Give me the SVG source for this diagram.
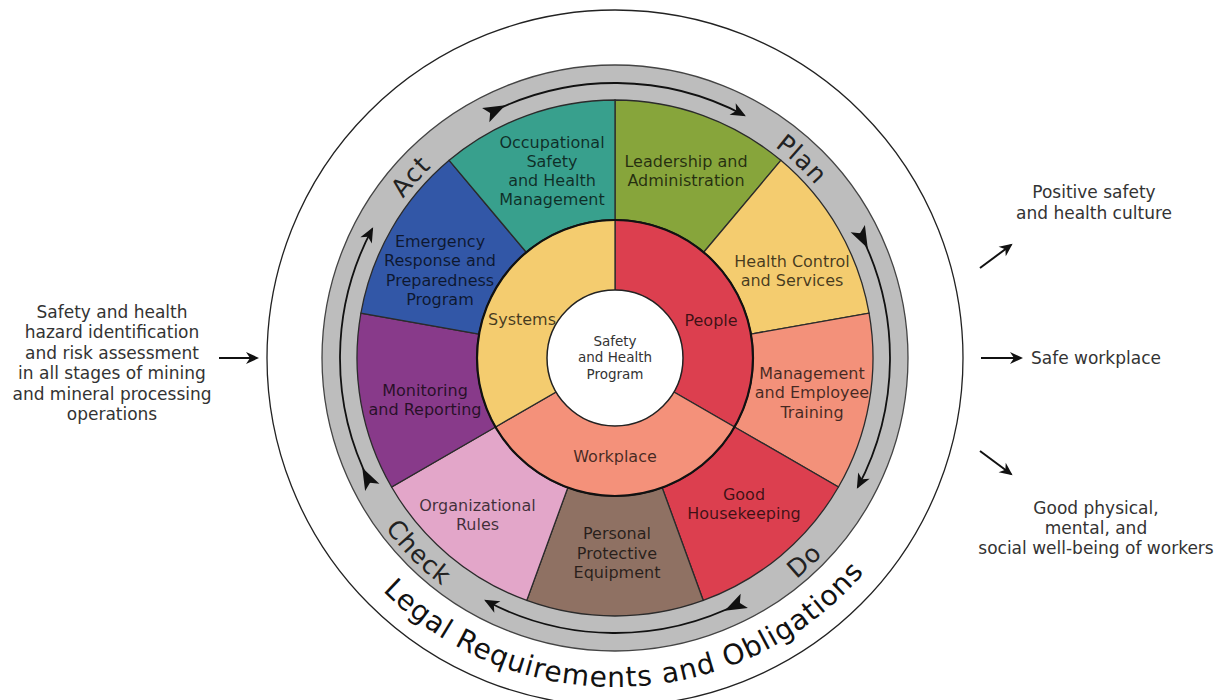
<svg xmlns="http://www.w3.org/2000/svg" width="1229" height="700" viewBox="0 0 1229 700">
<style>
.seg{stroke:#2b2b2b;stroke-width:1.3}
.lbl{font-family:"DejaVu Sans",sans-serif;font-size:16px;fill:#000;fill-opacity:0.72;text-anchor:middle}
.side{font-family:"DejaVu Sans",sans-serif;font-size:17px;fill:#333;text-anchor:middle}
.ctr{font-family:"DejaVu Sans",sans-serif;font-size:13.5px;fill:#333;text-anchor:middle}
.ring{font-family:"DejaVu Sans",sans-serif;font-size:25px;fill:#222;text-anchor:middle;letter-spacing:1px}
.legal{font-family:"DejaVu Sans",sans-serif;font-size:28px;fill:#111;text-anchor:middle;letter-spacing:1px}
.cyc{fill:none;stroke:#111;stroke-width:1.8;marker-start:url(#tail);marker-end:url(#head)}
.arw{fill:none;stroke:#111;stroke-width:2;marker-end:url(#shead)}
</style>
<defs>
<marker id="head" markerUnits="userSpaceOnUse" markerWidth="30" markerHeight="30" refX="0" refY="0" orient="auto" overflow="visible"><path d="M2,0 L-13,-6.5 L-9,0 L-13,6.5 Z" fill="#111"/></marker>
<marker id="tail" markerUnits="userSpaceOnUse" markerWidth="30" markerHeight="30" refX="0" refY="0" orient="auto" overflow="visible"><path d="M0,0 L-5,-8 L17,0 L-5,8 Z" fill="#111"/></marker>
<marker id="shead" markerUnits="userSpaceOnUse" markerWidth="30" markerHeight="30" refX="0" refY="0" orient="auto" overflow="visible"><path d="M2,0 L-11,-6 L-7,0 L-11,6 Z" fill="#111"/></marker>
<path id="cw265" d="M350,358 A265,265 0 0 1 880,358 A265,265 0 0 1 350,358"/>
<path id="ccw286" d="M329,358 A286,286 0 0 0 901,358 A286,286 0 0 0 329,358"/>
<path id="ccw329" d="M286,358 A329,329 0 0 0 944,358 A329,329 0 0 0 286,358"/>
</defs>
<rect width="1229" height="700" fill="#fff"/>

<g id="legal-frame">
<circle cx="615" cy="358" r="348" fill="none" stroke="#222" stroke-width="1.3"/>
<text class="legal"><textPath href="#ccw329" startOffset="529.4">Legal Requirements and Obligations</textPath></text>
</g>

<g id="pdca-ring">
<circle cx="615" cy="358" r="293" fill="#bdbdbd" stroke="#444" stroke-width="1.3"/>
<text class="ring"><textPath href="#cw265" startOffset="192.4">Act</textPath></text>
<text class="ring"><textPath href="#cw265" startOffset="616.1">Plan</textPath></text>
<text class="ring"><textPath href="#ccw286" startOffset="663.9">Do</textPath></text>
<text class="ring"><textPath href="#ccw286" startOffset="223.1">Check</textPath></text>
</g>

<g id="leadership">
<path class="seg" fill="#87a53b" d="M615,220 L615,100 A258,258 0 0 1 780.84,160.37 L703.71,252.29 A138,138 0 0 0 615,220 Z"/>
<text class="lbl" x="686" y="167">Leadership and</text>
<text class="lbl" x="686" y="186">Administration</text>
</g>
<g id="health-control">
<path class="seg" fill="#f4cc6f" d="M703.71,252.29 L780.84,160.37 A258,258 0 0 1 869.08,313.21 L750.9,334.04 A138,138 0 0 0 703.71,252.29 Z"/>
<text class="lbl" x="792" y="267">Health Control</text>
<text class="lbl" x="792" y="286">and Services</text>
</g>
<g id="training">
<path class="seg" fill="#f3917a" d="M750.9,334.04 L869.08,313.21 A258,258 0 0 1 838.43,487 L734.51,427 A138,138 0 0 0 750.9,334.04 Z"/>
<text class="lbl" x="812" y="378.5">Management</text>
<text class="lbl" x="812" y="398">and Employee</text>
<text class="lbl" x="812" y="418">Training</text>
</g>
<g id="housekeeping">
<path class="seg" fill="#dc3f4f" d="M734.51,427 L838.43,487 A258,258 0 0 1 703.24,600.44 L662.2,487.68 A138,138 0 0 0 734.51,427 Z"/>
<text class="lbl" x="744" y="499.5">Good</text>
<text class="lbl" x="744" y="518.5">Housekeeping</text>
</g>
<g id="ppe">
<path class="seg" fill="#8f7163" d="M662.2,487.68 L703.24,600.44 A258,258 0 0 1 526.76,600.44 L567.8,487.68 A138,138 0 0 0 662.2,487.68 Z"/>
<text class="lbl" x="617" y="539">Personal</text>
<text class="lbl" x="617" y="558.5">Protective</text>
<text class="lbl" x="617" y="578">Equipment</text>
</g>
<g id="org-rules">
<path class="seg" fill="#e3a6c9" d="M567.8,487.68 L526.76,600.44 A258,258 0 0 1 391.57,487 L495.49,427 A138,138 0 0 0 567.8,487.68 Z"/>
<text class="lbl" x="477.5" y="510.5">Organizational</text>
<text class="lbl" x="477.5" y="529.5">Rules</text>
</g>
<g id="monitoring">
<path class="seg" fill="#883a8a" d="M495.49,427 L391.57,487 A258,258 0 0 1 360.92,313.21 L479.1,334.04 A138,138 0 0 0 495.49,427 Z"/>
<text class="lbl" x="425" y="396">Monitoring</text>
<text class="lbl" x="425" y="415">and Reporting</text>
</g>
<g id="emergency">
<path class="seg" fill="#3257a7" d="M479.1,334.04 L360.92,313.21 A258,258 0 0 1 449.16,160.37 L526.29,252.29 A138,138 0 0 0 479.1,334.04 Z"/>
<text class="lbl" x="440" y="247">Emergency</text>
<text class="lbl" x="440" y="266">Response and</text>
<text class="lbl" x="440" y="285.5">Preparedness</text>
<text class="lbl" x="440" y="305">Program</text>
</g>
<g id="occupational">
<path class="seg" fill="#38a08d" d="M526.29,252.29 L449.16,160.37 A258,258 0 0 1 615,100 L615,220 A138,138 0 0 0 526.29,252.29 Z"/>
<text class="lbl" x="552" y="147.5">Occupational</text>
<text class="lbl" x="552" y="166.5">Safety</text>
<text class="lbl" x="552" y="185.5">and Health</text>
<text class="lbl" x="552" y="204.5">Management</text>
</g>

<g id="people">
<path class="seg" fill="#dc3f4f" d="M615,358 L615,220 A138,138 0 0 1 734.51,427 Z"/>
<text class="lbl" x="711" y="325.5">People</text>
</g>
<g id="workplace">
<path class="seg" fill="#f4917a" d="M615,358 L734.51,427 A138,138 0 0 1 495.49,427 Z"/>
<text class="lbl" x="615" y="462">Workplace</text>
</g>
<g id="systems">
<path class="seg" fill="#f4cc6f" d="M615,358 L495.49,427 A138,138 0 0 1 615,220 Z"/>
<text class="lbl" x="522" y="325">Systems</text>
</g>
<circle cx="615" cy="358" r="138" fill="none" stroke="#111" stroke-width="2.2"/>

<g id="center">
<circle cx="615" cy="358" r="68" fill="#fff" stroke="#222" stroke-width="1.5"/>
<text class="ctr" x="615" y="345.5">Safety</text>
<text class="ctr" x="615" y="362">and Health</text>
<text class="ctr" x="615" y="379">Program</text>
</g>

<g id="input">
<text class="side" x="112" y="317.5">Safety and health</text>
<text class="side" x="112" y="338">hazard identification</text>
<text class="side" x="112" y="358.5">and risk assessment</text>
<text class="side" x="112" y="379">in all stages of mining</text>
<text class="side" x="112" y="400">and mineral processing</text>
<text class="side" x="112" y="420">operations</text>
</g>
<g id="outcome-culture">
<text class="side" x="1094" y="197.5">Positive safety</text>
<text class="side" x="1094" y="218.5">and health culture</text>
</g>
<g id="outcome-workplace">
<text class="side" x="1031" y="364" style="text-anchor:start">Safe workplace</text>
</g>
<g id="outcome-wellbeing">
<text class="side" x="1096" y="514">Good physical,</text>
<text class="side" x="1096" y="534">mental, and</text>
<text class="side" x="1096" y="554">social well-being of workers</text>
</g>

<g id="connectors">
<path class="cyc" d="M490.15,112.97 A275,275 0 0 1 744.11,115.2"/>
<path class="cyc" d="M860.03,233.15 A275,275 0 0 1 857.8,487.1"/>
<path class="cyc" d="M739.85,603.03 A275,275 0 0 1 485.9,600.8"/>
<path class="cyc" d="M369.97,482.85 A275,275 0 0 1 372.2,228.9"/>
<path class="arw" d="M219,358 L257,358"/>
<path class="arw" d="M980,268 L1011,245"/>
<path class="arw" d="M981,358 L1021,358"/>
<path class="arw" d="M980,451 L1011,474"/>
</g>
</svg>
